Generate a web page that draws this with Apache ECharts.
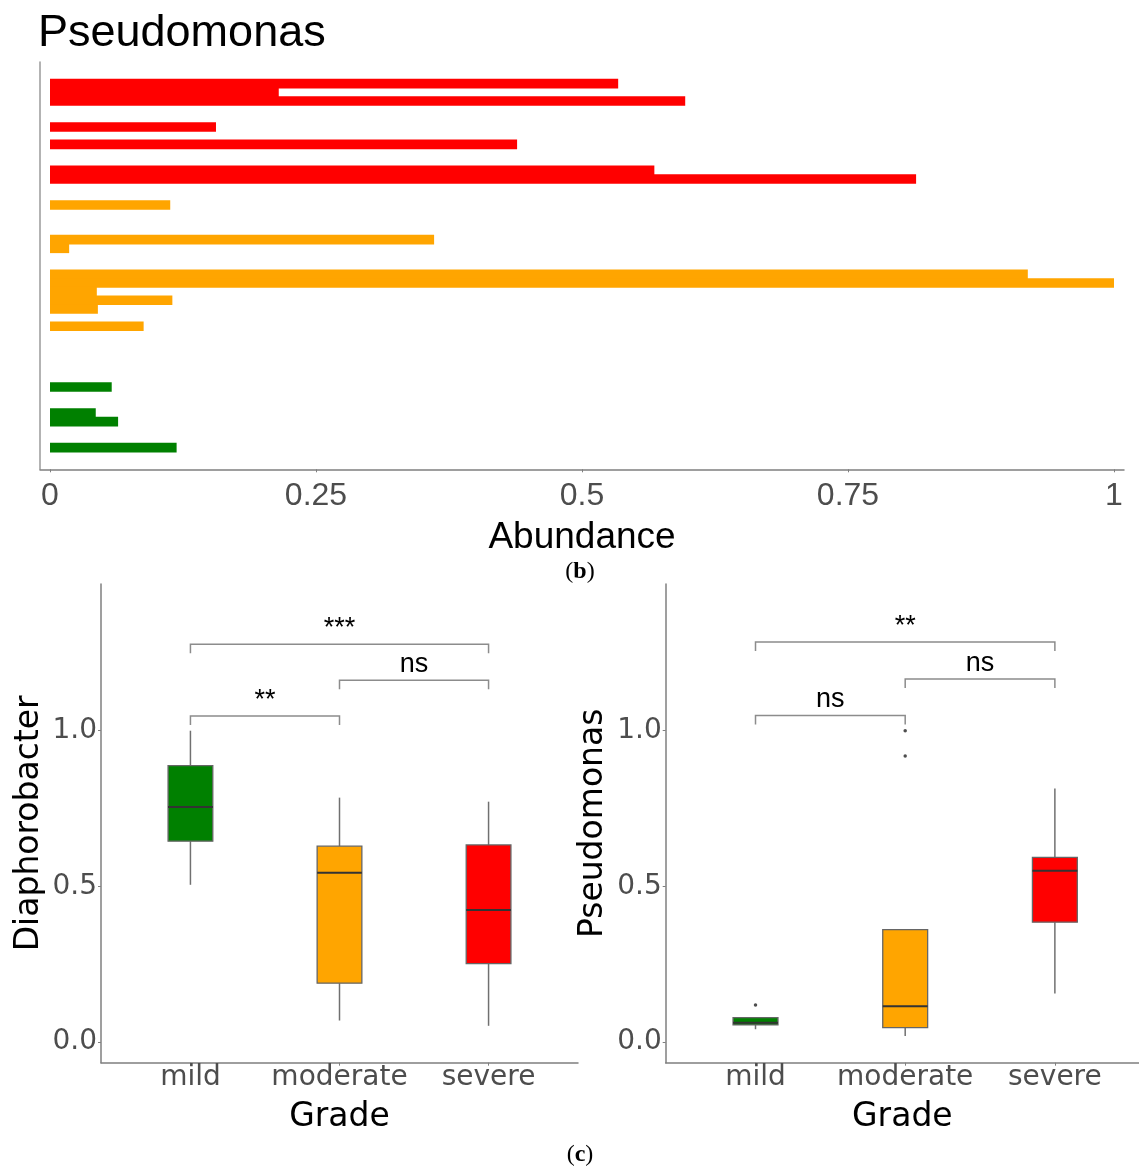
<!DOCTYPE html>
<html>
<head>
<meta charset="utf-8">
<script src="https://cdn.jsdelivr.net/npm/echarts@6/dist/echarts.min.js"></script>
<style>
html,body{margin:0;padding:0;background:#fff;}
#chart{width:1139px;height:1167px;}
</style>
</head>
<body>
<div id="chart"></div>
<script>
// ---------- DATA ----------
// Panel (b): one row per sample (top to bottom), abundance of Pseudomonas
const sampleIds = Array.from({length: 47}, (_, i) => 'S' + (i + 1));
const abundance = [
  0, 0, 0.534, 0.215, 0.597, 0, 0, 0.156, 0, 0.439,
  0, 0, 0.568, 0.814, 0, 0, 0.113, 0, 0, 0,
  0.361, 0.018, 0, 0, 0.919, 1.0, 0.044, 0.115, 0.045, 0,
  0.088, 0, 0, 0, 0, 0, 0, 0.058, 0, 0,
  0.043, 0.064, 0, 0, 0.119, 0, 0
];
const sampleGrade = [
  'severe','severe','severe','severe','severe','severe','severe','severe','severe','severe',
  'severe','severe','severe','severe','severe','moderate','moderate','moderate','moderate','moderate',
  'moderate','moderate','moderate','moderate','moderate','moderate','moderate','moderate','moderate','moderate',
  'moderate','moderate','mild','mild','mild','mild','mild','mild','mild','mild',
  'mild','mild','mild','mild','mild','mild','mild'
];
const abundanceTicks = [0, 0.25, 0.5, 0.75, 1];

// Panel (c): box statistics [x, min, q1, median, q3, max]
const grades = ['mild', 'moderate', 'severe'];
const diaphBoxes = [
  [1, 0.505, 0.645, 0.755, 0.888, 1.000],
  [2, 0.069, 0.189, 0.544, 0.629, 0.785],
  [3, 0.052, 0.252, 0.424, 0.633, 0.772]
];
const pseudoBoxes = [
  [1, 0.041, 0.055, 0.062, 0.078, 0.078],
  [2, 0.019, 0.046, 0.115, 0.361, 0.361],
  [3, 0.156, 0.385, 0.550, 0.593, 0.814]
];
const pseudoOutliers = [[1, 0.119], [2, 1.0], [2, 0.919]];
const boxTicks = [0, 0.5, 1.0];
// significance brackets [from, to, height]
const diaphBrackets = [[1, 3, 1.278], [2, 3, 1.162], [1, 2, 1.047]];
const diaphLabels = ['***', 'ns', '**'];
const pseudoBrackets = [[1, 3, 1.285], [2, 3, 1.166], [1, 2, 1.049]];
const pseudoLabels = ['**', 'ns', 'ns'];
const bracketTip = 0.029;

// ---------- STYLE ----------
const gradeColor = {mild: '#008000', moderate: '#FFA500', severe: '#FF0000'};
const axisGray = '#7f7f7f';
const labelGray = '#4d4d4d';

function barSeries(g) {
  return {
    type: 'bar', xAxisIndex: 0, yAxisIndex: 0,
    data: abundance.map((v, i) => sampleGrade[i] === g && v > 0 ? v : '-'),
    itemStyle: {color: gradeColor[g]},
    barGap: '-100%', barWidth: 9.6,
    silent: true
  };
}

function boxRender(params, api) {
  const x = api.value(0);
  const pMin = api.coord([x, api.value(1)]);
  const pQ1 = api.coord([x, api.value(2)]);
  const pMed = api.coord([x, api.value(3)]);
  const pQ3 = api.coord([x, api.value(4)]);
  const pMax = api.coord([x, api.value(5)]);
  const hw = api.size([0.3, 0])[0] / 2;
  const cx = pQ1[0];
  const fill = gradeColor[grades[x - 1]];
  return {
    type: 'group',
    children: [
      {type: 'line', shape: {x1: cx, y1: pMax[1], x2: cx, y2: pQ3[1]}, style: {stroke: '#707070', lineWidth: 1.5}},
      {type: 'line', shape: {x1: cx, y1: pQ1[1], x2: cx, y2: pMin[1]}, style: {stroke: '#707070', lineWidth: 1.5}},
      {type: 'rect', shape: {x: cx - hw, y: pQ3[1], width: 2 * hw, height: pQ1[1] - pQ3[1]},
        style: {fill: fill, stroke: '#666666', lineWidth: 1.3}},
      {type: 'line', shape: {x1: cx - hw, y1: pMed[1], x2: cx + hw, y2: pMed[1]}, style: {stroke: '#333333', lineWidth: 2}}
    ]
  };
}

function bracketRender(labels) {
  return function (params, api) {
    const y = api.value(2);
    const p1 = api.coord([api.value(0), y]);
    const p2 = api.coord([api.value(1), y]);
    const tip = api.size([0, bracketTip])[1];
    return {
      type: 'group',
      children: [
        {type: 'polyline', shape: {points: [[p1[0], p1[1] + tip], [p1[0], p1[1]], [p2[0], p2[1]], [p2[0], p2[1] + tip]]},
          style: {stroke: '#8c8c8c', lineWidth: 1.5, fill: null}},
        {type: 'text', x: (p1[0] + p2[0]) / 2, y: p1[1] - 2,
          style: {text: labels[params.dataIndex], fontFamily: 'Liberation Sans', fontSize: 27, fill: '#000',
            align: 'center', verticalAlign: 'bottom'}}
      ]
    };
  };
}

function boxXAxis(gridIndex, max) {
  return {
    gridIndex: gridIndex, type: 'value', min: 0.4, max: max,
    axisLine: {show: true, onZero: false, lineStyle: {color: axisGray, width: 1.5}},
    axisTick: {show: true, customValues: [1, 2, 3], length: 3, lineStyle: {color: axisGray}},
    axisLabel: {customValues: [1, 2, 3], formatter: v => grades[Math.round(v) - 1],
      fontFamily: 'DejaVu Sans', fontSize: 28, color: labelGray, verticalAlign: 'middle', margin: 15},
    splitLine: {show: false},
    name: 'Grade', nameLocation: 'middle', nameGap: 55, nameMoveOverlap: false,
    nameTextStyle: {fontFamily: 'DejaVu Sans', fontSize: 33, color: '#000', verticalAlign: 'middle'}
  };
}
function boxYAxis(gridIndex, name) {
  return {
    gridIndex: gridIndex, type: 'value', min: -0.0665, max: 1.4713,
    axisLine: {show: true, onZero: false, lineStyle: {color: axisGray, width: 1.5}},
    axisTick: {show: true, customValues: boxTicks, length: 3, lineStyle: {color: axisGray}},
    axisLabel: {customValues: boxTicks, formatter: v => v.toFixed(1),
      fontFamily: 'DejaVu Sans', fontSize: 28, color: labelGray, margin: 4},
    splitLine: {show: false},
    name: name, nameLocation: 'middle', nameGap: 72, nameMoveOverlap: false,
    nameTextStyle: {fontFamily: 'DejaVu Sans', fontSize: 33, color: '#000', verticalAlign: 'middle'}
  };
}

const option = {
  animation: false,
  backgroundColor: '#fff',
  grid: [
    {left: 40, top: 62, width: 1084, height: 407.3, outerBoundsMode: 'none', containLabel: false},
    {left: 101, top: 584, width: 477, height: 478.7, outerBoundsMode: 'none', containLabel: false},
    {left: 665.7, top: 584, width: 473.3, height: 478.7, outerBoundsMode: 'none', containLabel: false}
  ],
  xAxis: [
    {
      gridIndex: 0, type: 'value', min: -0.0094, max: 1.0094,
      axisLine: {show: true, onZero: false, lineStyle: {color: axisGray, width: 1.5}},
      axisTick: {show: true, customValues: abundanceTicks, length: 3, lineStyle: {color: axisGray}},
      axisLabel: {customValues: abundanceTicks, formatter: v => String(v),
        fontFamily: 'Liberation Sans', fontSize: 32, color: labelGray, verticalAlign: 'middle', margin: 27},
      splitLine: {show: false},
      name: 'Abundance', nameLocation: 'middle', nameGap: 68, nameMoveOverlap: false,
      nameTextStyle: {fontFamily: 'Liberation Sans', fontSize: 37, color: '#000', verticalAlign: 'middle'}
    },
    boxXAxis(1, 3.6),
    boxXAxis(2, 3.562)
  ],
  yAxis: [
    {
      gridIndex: 0, type: 'category', data: sampleIds, inverse: true,
      axisLine: {show: true, onZero: false, lineStyle: {color: '#9a9a9a', width: 1.5}},
      axisTick: {show: false}, axisLabel: {show: false}, splitLine: {show: false}
    },
    boxYAxis(1, 'Diaphorobacter'),
    boxYAxis(2, 'Pseudomonas')
  ],
  series: [
    barSeries('severe'),
    barSeries('moderate'),
    barSeries('mild'),
    {type: 'custom', xAxisIndex: 1, yAxisIndex: 1, data: diaphBoxes, renderItem: boxRender,
      encode: {x: 0, y: [1, 2, 3, 4, 5]}, silent: true},
    {type: 'custom', xAxisIndex: 2, yAxisIndex: 2, data: pseudoBoxes, renderItem: boxRender,
      encode: {x: 0, y: [1, 2, 3, 4, 5]}, silent: true},
    {type: 'scatter', xAxisIndex: 2, yAxisIndex: 2, data: pseudoOutliers, symbolSize: 3.5,
      itemStyle: {color: '#222'}, silent: true},
    {type: 'custom', xAxisIndex: 1, yAxisIndex: 1, data: diaphBrackets, renderItem: bracketRender(diaphLabels),
      encode: {x: [0, 1], y: 2}, silent: true},
    {type: 'custom', xAxisIndex: 2, yAxisIndex: 2, data: pseudoBrackets, renderItem: bracketRender(pseudoLabels),
      encode: {x: [0, 1], y: 2}, silent: true}
  ],
  graphic: [
    {type: 'text', x: 38, y: 34, style: {text: 'Pseudomonas', fontFamily: 'Liberation Sans', fontSize: 45,
      fill: '#000', align: 'left', verticalAlign: 'middle'}},
    {type: 'text', x: 580, y: 572, style: {text: '({b|b})', fontFamily: 'Liberation Serif', fontSize: 24,
      fill: '#000', align: 'center', verticalAlign: 'middle',
      rich: {b: {fontFamily: 'Liberation Serif', fontSize: 24, fontWeight: 'bold', fill: '#000'}}}},
    {type: 'text', x: 580, y: 1155, style: {text: '({b|c})', fontFamily: 'Liberation Serif', fontSize: 24,
      fill: '#000', align: 'center', verticalAlign: 'middle',
      rich: {b: {fontFamily: 'Liberation Serif', fontSize: 24, fontWeight: 'bold', fill: '#000'}}}}
  ]
};

const chart = echarts.init(document.getElementById('chart'), null, {renderer: 'canvas'});
chart.setOption(option);
</script>
</body>
</html>
